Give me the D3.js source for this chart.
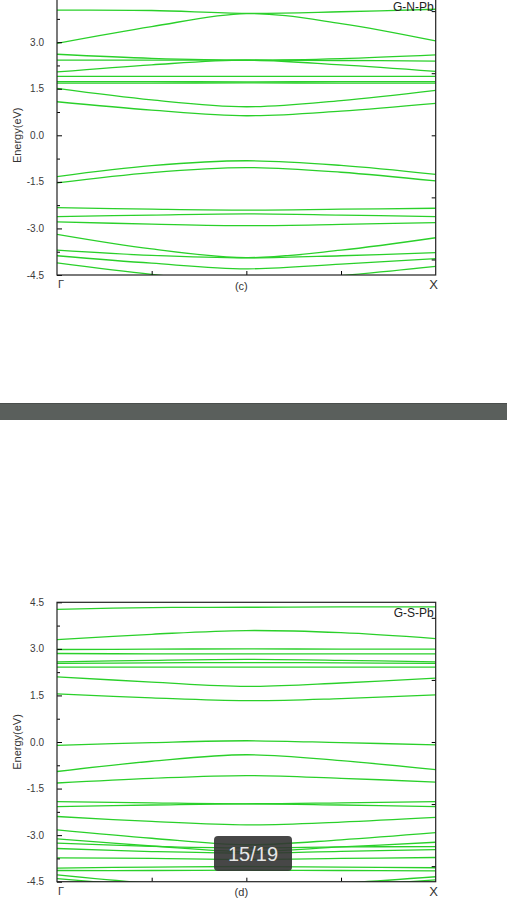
<!DOCTYPE html>
<html>
<head>
<meta charset="utf-8">
<script src="https://cdn.jsdelivr.net/npm/d3@7"></script>
<style>
  body { margin: 0; background: #fff; }
  svg { display: block; font-family: "Liberation Sans", Arial, sans-serif; }
</style>
</head>
<body>
<div id="root"></div>
<script>
// k-path sample points (fraction of the Γ–X path)
const kPoints = [0, 0.25, 0.5, 0.75, 1];
const kLabels = ["Γ", "X"];
const energyTicks = [-4.5, -3.0, -1.5, 0.0, 1.5, 3.0, 4.5];
const rightTicks = [-4, -2, 0, 2, 4];
const panelNames = ["G-N-Pb", "G-S-Pb"];
const panelCaptions = ["(c)", "(d)"];

// energies (eV) at kPoints
const bandsC = [
  [4.03, 4.02, 3.93, 3.98, 4.06],
  [2.96, 3.50, 3.92, 3.60, 3.04],
  [2.61, 2.48, 2.42, 2.47, 2.59],
  [2.42, 2.42, 2.42, 2.41, 2.39],
  [2.04, 2.27, 2.42, 2.27, 2.06],
  [1.90, 1.90, 1.90, 1.90, 1.90],
  [1.73, 1.73, 1.72, 1.73, 1.73],
  [1.68, 1.68, 1.69, 1.68, 1.68],
  [1.51, 1.14, 0.92, 1.12, 1.45],
  [1.08, 0.81, 0.63, 0.78, 1.03],
  [-1.33, -0.98, -0.82, -0.97, -1.26],
  [-1.53, -1.20, -1.04, -1.19, -1.47],
  [-2.33, -2.38, -2.41, -2.38, -2.35],
  [-2.62, -2.57, -2.53, -2.57, -2.62],
  [-2.79, -2.86, -2.91, -2.87, -2.81],
  [-3.19, -3.66, -3.94, -3.70, -3.30],
  [-3.70, -3.87, -3.95, -3.88, -3.78],
  [-3.88, -4.12, -4.30, -4.15, -3.97],
  [-4.11, -4.48, -4.75, -4.52, -4.22]
];

const bandsD = [
  [4.27, 4.33, 4.34, 4.35, 4.35],
  [3.30, 3.47, 3.59, 3.52, 3.33],
  [2.98, 2.99, 3.00, 2.99, 2.99],
  [2.85, 2.84, 2.84, 2.84, 2.84],
  [2.58, 2.63, 2.66, 2.63, 2.58],
  [2.53, 2.55, 2.56, 2.55, 2.53],
  [2.41, 2.41, 2.41, 2.41, 2.41],
  [2.10, 1.93, 1.79, 1.90, 2.06],
  [1.55, 1.42, 1.33, 1.40, 1.52],
  [-0.11, -0.02, 0.04, -0.02, -0.09],
  [-0.95, -0.62, -0.41, -0.60, -0.89],
  [-1.32, -1.17, -1.08, -1.17, -1.29],
  [-1.92, -1.96, -1.99, -1.96, -1.92],
  [-2.08, -2.03, -1.99, -2.03, -2.08],
  [-2.40, -2.56, -2.67, -2.58, -2.43],
  [-2.83, -3.10, -3.31, -3.15, -2.92],
  [-3.12, -3.35, -3.53, -3.38, -3.23],
  [-3.26, -3.36, -3.41, -3.38, -3.37],
  [-3.43, -3.53, -3.58, -3.52, -3.47],
  [-3.73, -3.75, -3.78, -3.75, -3.72],
  [-4.06, -4.03, -4.01, -4.03, -4.05],
  [-4.14, -4.14, -4.13, -4.14, -4.15],
  [-4.28, -4.55, -4.70, -4.55, -4.34],
  [-4.40, -4.65, -4.85, -4.65, -4.44]
];

const outerWidth = 507;
const outerHeight = 900;
const plotLeft = 57;
const plotRight = 435.7;
const plotHeight = 279.4;

const svg = d3.select("#root")
  .append("svg")
  .attr("width", outerWidth)
  .attr("height", outerHeight);

// gray separator bar
svg.append("rect")
  .attr("x", 0).attr("y", 403)
  .attr("width", outerWidth).attr("height", 17)
  .attr("fill", "#5a5f5c");
svg.append("rect")
  .attr("x", 0).attr("y", 403)
  .attr("width", outerWidth).attr("height", 1)
  .attr("fill", "#4a4e4c");

let scaleX = d3.scaleLinear().domain([0, 1]).range([plotLeft, plotRight]);

function drawPanel(bands, top, idx) {
  let scaleY = d3.scaleLinear().domain([-4.5, 4.5]).range([top + plotHeight, top]);
  let g = svg.append("g");

  let clipId = "clip" + idx;
  g.append("clipPath").attr("id", clipId)
    .append("rect")
    .attr("x", plotLeft).attr("y", top)
    .attr("width", plotRight - plotLeft).attr("height", plotHeight);

  let line = d3.line()
    .x((d, i) => scaleX(kPoints[i]))
    .y(d => scaleY(d))
    .curve(d3.curveCatmullRom.alpha(0.5));

  g.append("g")
    .attr("clip-path", `url(#${clipId})`)
    .selectAll(".band")
    .data(bands)
    .enter().append("path")
    .attr("class", "band")
    .attr("d", line)
    .attr("fill", "none")
    .attr("stroke", "#2ad02a")
    .attr("stroke-width", 1.3);

  // left axis: major ticks inward with minor ticks between
  let minor = energyTicks.slice(0, -1).map(v => v + 0.75);
  let leftAxis = d3.axisRight(scaleY).tickValues(energyTicks).tickSize(5).tickFormat("");
  g.append("g").attr("transform", `translate(${plotLeft},0)`).call(leftAxis)
    .call(a => a.select(".domain").remove());
  g.append("g").attr("transform", `translate(${plotLeft},0)`)
    .call(d3.axisRight(scaleY).tickValues(minor).tickSize(3).tickFormat(""))
    .call(a => a.select(".domain").remove());

  // tick labels (the top one of the upper panel is off the page)
  g.selectAll(".ylab")
    .data(energyTicks.filter(d => scaleY(d) > 6))
    .enter().append("text")
    .attr("class", "ylab")
    .attr("x", 44)
    .attr("y", d => scaleY(d) + 3.5)
    .attr("text-anchor", "end")
    .attr("font-size", 10)
    .attr("fill", "#3a3a3a")
    .text(d => d3.format(".1f")(d).replace("−", "-"));

  // right axis ticks
  g.append("g").attr("transform", `translate(${plotRight},0)`)
    .call(d3.axisLeft(scaleY).tickValues(rightTicks).tickSize(4).tickFormat(""))
    .call(a => a.select(".domain").remove());

  // bottom ticks
  g.append("g").attr("transform", `translate(0,${top + plotHeight})`)
    .call(d3.axisTop(scaleX).tickValues([0.25, 0.5, 0.75]).tickSize(4).tickFormat(""))
    .call(a => a.select(".domain").remove());

  // frame
  g.append("rect")
    .attr("x", plotLeft).attr("y", top)
    .attr("width", plotRight - plotLeft).attr("height", plotHeight)
    .attr("fill", "none").attr("stroke", "#222").attr("stroke-width", 1.2);

  // k labels
  g.append("text").attr("x", scaleX(0) + 1).attr("y", top + plotHeight + 13)
    .attr("font-size", 11).attr("fill", "#333").text(kLabels[0]);
  g.append("text").attr("x", scaleX(1) - 2).attr("y", top + plotHeight + 14)
    .attr("text-anchor", "middle").attr("font-size", 13).attr("fill", "#333").text(kLabels[1]);
  g.append("text").attr("x", scaleX(0.5) - 5).attr("y", top + plotHeight + 14.5)
    .attr("text-anchor", "middle").attr("font-size", 11).attr("fill", "#333").text(panelCaptions[idx]);

  // panel name
  g.append("text").attr("x", plotRight - 2).attr("y", top + 15)
    .attr("text-anchor", "end").attr("font-size", 12).attr("fill", "#222").text(panelNames[idx]);

  // y title
  g.append("text")
    .attr("transform", `translate(21,${top + plotHeight / 2}) rotate(-90)`)
    .attr("text-anchor", "middle")
    .attr("font-size", 11).attr("fill", "#333")
    .text("Energy(eV)");
}

drawPanel(bandsC, -4.4, 0);
drawPanel(bandsD, 602.3, 1);

// page counter overlay
svg.append("rect")
  .attr("x", 214).attr("y", 836)
  .attr("width", 78).attr("height", 35)
  .attr("rx", 4)
  .attr("fill", "#333").attr("fill-opacity", 0.9);
svg.append("text")
  .attr("x", 253).attr("y", 861)
  .attr("text-anchor", "middle")
  .attr("font-size", 20).attr("fill", "#e6e6e6")
  .text("15/19");
</script>
</body>
</html>
